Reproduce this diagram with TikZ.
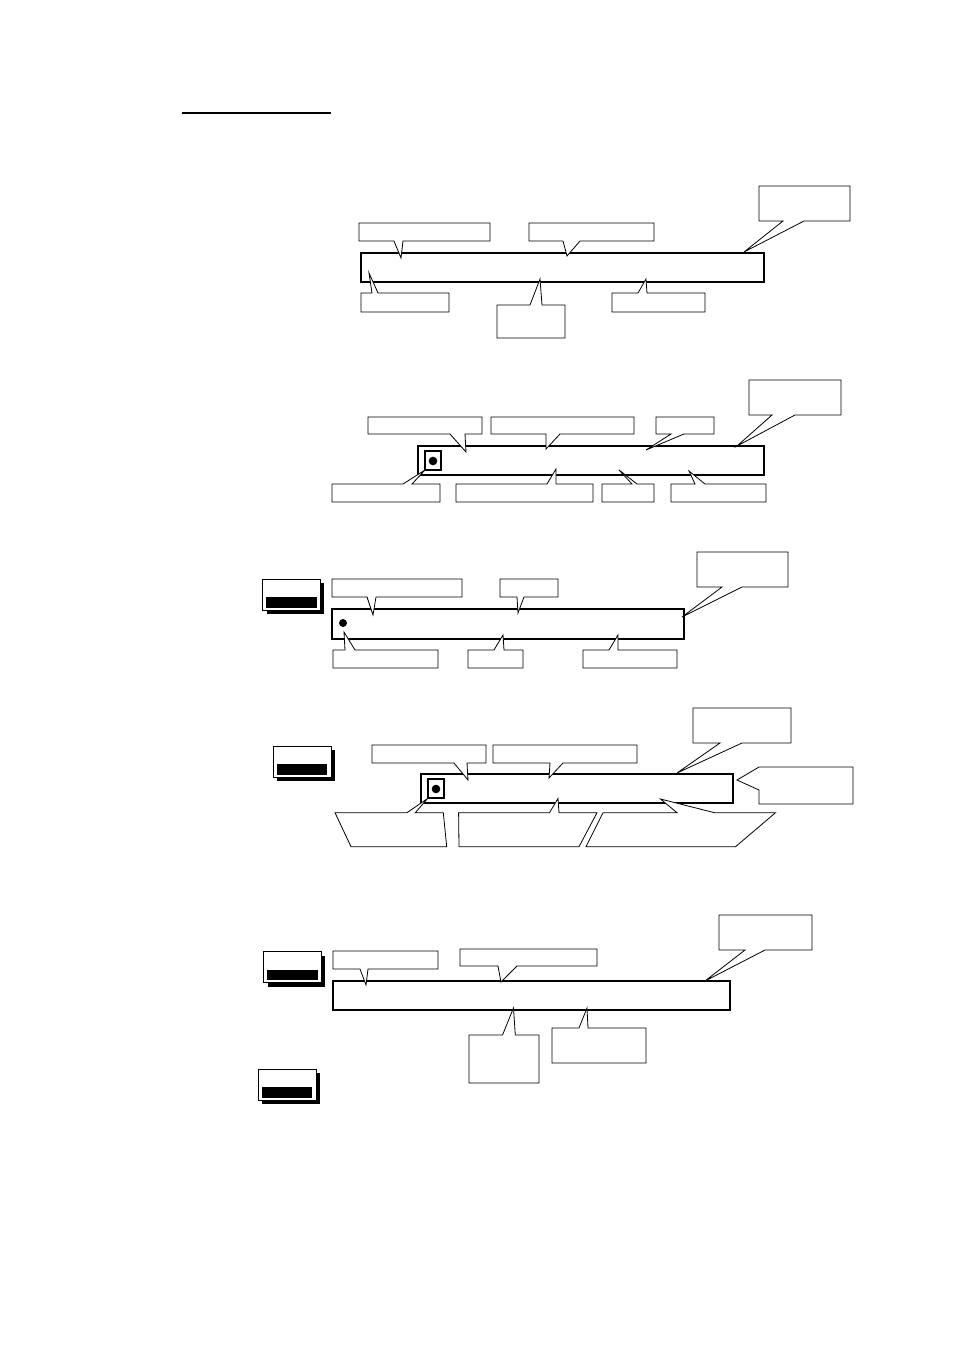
\documentclass[tikz,border=0pt]{standalone}
\usepackage{tikz}
\tikzset{
  bar/.style={draw=black,line width=1.1pt},
  callout/.style={draw=black,fill=white,line width=0.6pt,line join=miter},
  inset/.style={draw=black,fill=white,line width=0.9pt},
  dotmark/.style={fill=black},
  keyface/.style={draw=black,fill=white,line width=0.7pt},
}
% soft key: shadow, white face, black strip
\newcommand{\softkey}[2]{%
  \fill (#1+4,#2+4) rectangle (#1+61.5,#2+35);
  \draw[keyface] (#1,#2) rectangle (#1+58,#2+31);
  \fill (#1+3.5,#2+18) rectangle (#1+54,#2+28.5);
}
% callout above a bar, tail on its lower edge: x1,y1,x2,y2,a,b,tip
\newcommand{\calldown}[7]{%
  \draw[callout] (#1,#2) -- (#3,#2) -- (#3,#4) -- (#6,#4) -- (#7) -- (#5,#4) -- (#1,#4) -- cycle;
}
% callout below a bar, tail on its upper edge
\newcommand{\callup}[7]{%
  \draw[callout] (#1,#2) -- (#5,#2) -- (#7) -- (#6,#2) -- (#3,#2) -- (#3,#4) -- (#1,#4) -- cycle;
}
\begin{document}
\begin{tikzpicture}[x=0.75pt,y=-0.75pt]
\useasboundingbox (0,0) rectangle (954,1350);
\draw[line width=1.5pt] (182,113) -- (331,113);

% first bar
\draw[bar] (361,253) rectangle (764,282);
\calldown{359}{223}{490}{241}{394}{403}{401,258}
\calldown{529}{223}{654}{241}{563}{580}{567,256}
\calldown{759}{186}{850}{221}{783}{804}{744,252}
\callup{361}{293}{449}{312}{372}{378}{369,273}
\callup{497}{305}{565}{338}{530}{542}{540,279}
\callup{612}{293}{705}{312}{638}{647}{646,279}

% second bar
\draw[bar] (418,446) rectangle (764,475);
\calldown{749}{380}{841}{415}{772}{795}{737,446}
\calldown{368}{417}{482}{434}{450}{465}{466,452}
\calldown{491}{417}{634}{434}{546}{560}{546,449}
\calldown{656}{417}{714}{434}{671}{684}{646,450}
\callup{332}{484}{440}{502}{403}{412}{425,470}
\callup{456}{484}{593}{502}{547}{556}{556,469}
\callup{602}{484}{654}{502}{632}{637}{619,470}
\callup{671}{484}{766}{502}{695}{705}{689,471}
\draw[inset] (425,451) rectangle (441,470);
\fill[dotmark] (433,461) circle (4.3);

% third bar
\softkey{262.7}{579.3}
\draw[bar] (332,609) rectangle (684,639);
\calldown{697}{552}{788}{587}{722}{742}{682,617}
\calldown{332}{579}{462}{597}{367}{376}{373,615}
\calldown{500}{579}{558}{597}{517}{524}{518,613}
\callup{333}{650}{438}{668}{345}{355}{344,632}
\callup{468}{650}{523}{668}{494}{504}{503,635}
\callup{583}{650}{677}{668}{609}{618}{618,635}
\fill[dotmark] (343,623) circle (4);

% fourth bar
\softkey{273.3}{746}
\draw[bar] (421,774) rectangle (733,803);
\calldown{693}{708}{791}{743}{720}{742}{677,773}
\calldown{372}{745}{486}{763}{454}{467}{468,780}
\calldown{493}{745}{637}{763}{550}{563}{549,778}
\draw[callout] (853,767) -- (759,767) -- (737,780) -- (759,790) -- (759,804) -- (853,804) -- cycle;
\draw[callout] (335,812.7) -- (406.9,812.7) -- (427.6,798.5) -- (415.3,812.7) -- (443.3,812.7)
  -- (446.7,846.7) -- (351,846.7) -- cycle;
\draw[callout] (458.6,812.7) -- (549.5,812.7) -- (558,798.5) -- (559,812.7) -- (597,812.7)
  -- (579,846.7) -- (459,846.7) -- cycle;
\draw[callout] (603,812.7) -- (677,812.7) -- (660.5,799) -- (714.5,812.7) -- (775.5,812.7)
  -- (735.5,846.7) -- (586,846.7) -- cycle;
\draw[inset] (428,779) rectangle (444,798);
\fill[dotmark] (436,789) circle (4.3);

% fifth bar
\softkey{263.8}{951.7}
\softkey{258.4}{1069.3}
\draw[bar] (333,981) rectangle (730,1010);
\calldown{719}{915}{812}{950}{745}{765}{705,981}
\calldown{333}{951}{438}{969}{360}{368}{366,985}
\calldown{460}{949}{597}{966}{498}{517}{501,982}
\callup{469}{1035}{539}{1083}{502.5}{515.3}{513.5,1008}
\callup{552}{1028}{646}{1063}{579}{588}{587,1008}
\end{tikzpicture}
\end{document}
